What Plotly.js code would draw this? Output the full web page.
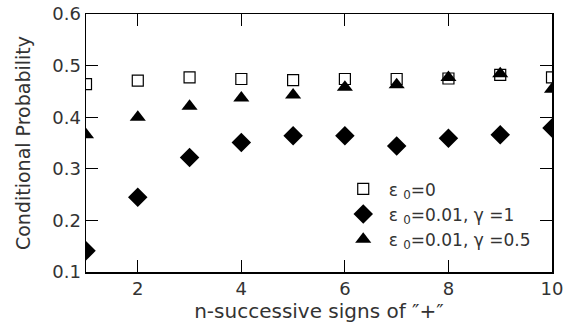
<!DOCTYPE html>
<html>
<head>
<meta charset="utf-8">
<script src="https://cdn.plot.ly/plotly-3.0.1.min.js"></script>
<style>html,body{margin:0;padding:0;background:#fff;}#chart{width:570px;height:335px;}</style>
</head>
<body>
<div id="chart"></div>
<script>
const nValues = [1, 2, 3, 4, 5, 6, 7, 8, 9, 10];
const eps0 = [0.464, 0.471, 0.477, 0.474, 0.472, 0.474, 0.474, 0.475, 0.482, 0.477];
const eps001g1 = [0.141, 0.245, 0.322, 0.351, 0.364, 0.364, 0.344, 0.359, 0.366, 0.379];
const eps001g05 = [0.366, 0.400, 0.421, 0.437, 0.443, 0.458, 0.463, 0.477, 0.484, 0.454];
const seriesNames = ["\u00A0ε <sub>0</sub>=0", "\u00A0ε <sub>0</sub>=0.01, γ =1", "\u00A0ε <sub>0</sub>=0.01, γ =0.5"];
const xTicks = [2, 4, 6, 8, 10];
const yTicks = [0.1, 0.2, 0.3, 0.4, 0.5, 0.6];

const fontFam = "DejaVu Sans, sans-serif";
const traces = [
  {x: nValues, y: eps0, name: seriesNames[0], mode: 'markers', type: 'scatter',
   marker: {symbol: 'square-open', size: 11, color: '#000', line: {width: 1.2, color: '#000'}}},
  {x: nValues, y: eps001g1, name: seriesNames[1], mode: 'markers', type: 'scatter',
   marker: {symbol: 'diamond', size: 15, color: '#000'}},
  {x: nValues, y: eps001g05, name: seriesNames[2], mode: 'markers', type: 'scatter',
   marker: {symbol: 'triangle-up', size: 14, color: '#000'}}
];
const axisCommon = {
  showline: true, linecolor: '#000', linewidth: 1.5, mirror: 'ticks',
  ticks: 'inside', ticklen: 12, tickwidth: 1.2, tickcolor: '#000',
  showgrid: false, zeroline: false,
  tickfont: {family: fontFam, size: 18, color: '#333'}
};
const layout = {
  width: 570, height: 335,
  margin: {l: 86, r: 18, t: 14, b: 63},
  paper_bgcolor: '#fff', plot_bgcolor: '#fff',
  font: {family: fontFam, color: '#333'},
  showlegend: true,
  legend: {x: 0.552, y: 0.39, xanchor: 'left', yanchor: 'top', bgcolor: 'rgba(0,0,0,0)',
           font: {family: fontFam, size: 17, color: '#333'}, tracegroupgap: 0, itemwidth: 30},
  xaxis: Object.assign({}, axisCommon, {range: [1, 10], tickvals: xTicks, ticktext: xTicks.map(String),
    automargin: false,
    title: {text: '\u00A0\u00A0\u00A0\u00A0\u00A0\u00A0n-successive signs of ″+″', font: {family: fontFam, size: 20, color: '#333'}, standoff: 6}}),
  yaxis: Object.assign({}, axisCommon, {range: [0.1, 0.6], tickvals: yTicks, ticktext: yTicks.map(v => v.toFixed(1)),
    automargin: false,
    title: {text: 'Conditional Probability', font: {family: fontFam, size: 19, color: '#333'}, standoff: 16}})
};
Plotly.newPlot('chart', traces, layout, {displayModeBar: false, staticPlot: true});
</script>
</body>
</html>
